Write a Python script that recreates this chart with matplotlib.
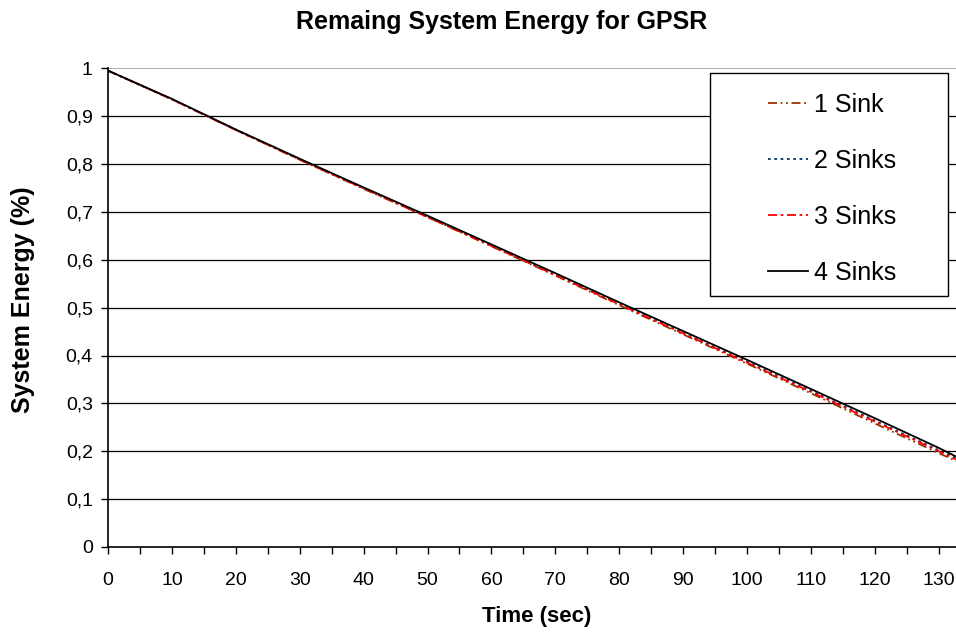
import numpy as np
import matplotlib
matplotlib.use('Agg')
import matplotlib.pyplot as plt
import matplotlib.patches as mpatches
from matplotlib.ticker import MultipleLocator, FuncFormatter

plt.rcParams['font.family'] = ['Liberation Sans', 'DejaVu Sans']

TITLE = 'Remaing System Energy for GPSR'

time = [0, 10, 20, 30, 40, 50, 60, 70, 80, 90, 100, 110, 120, 130, 133]
sink1 = [0.995, 0.935, 0.871, 0.809, 0.748, 0.689, 0.628, 0.567, 0.505, 0.444, 0.383, 0.321, 0.258, 0.196, 0.178]
sink2 = [0.995, 0.935, 0.872, 0.810, 0.750, 0.690, 0.630, 0.569, 0.508, 0.447, 0.387, 0.326, 0.264, 0.202, 0.184]
sink3 = [0.995, 0.935, 0.871, 0.809, 0.749, 0.689, 0.629, 0.568, 0.507, 0.446, 0.385, 0.324, 0.262, 0.200, 0.181]
sink4 = [0.995, 0.936, 0.872, 0.811, 0.751, 0.692, 0.632, 0.572, 0.511, 0.451, 0.391, 0.330, 0.269, 0.207, 0.187]

fig = plt.figure(figsize=(9.56, 6.32), dpi=100)
ax = fig.add_axes([0.113, 0.1345, 0.887, 0.7575])

ax.plot(time, sink1, color='#993300', lw=1.3, dashes=[5, 2, 1, 2, 1, 2], label='1 Sink')
ax.plot(time, sink2, color='#003366', lw=1.3, linestyle=(0, (1.5, 2)), label='2 Sinks')
ax.plot(time, sink3, color='#ff0000', lw=1.3, dashes=[5, 2, 1.5, 2], label='3 Sinks')
ax.plot(time, sink4, color='black', lw=1.3, label='4 Sinks')

ax.set_xlim(0, 132.7)
ax.set_ylim(0, 1)
ax.xaxis.set_major_locator(MultipleLocator(10))
ax.xaxis.set_minor_locator(MultipleLocator(5))
ax.yaxis.set_major_locator(MultipleLocator(0.1))
ax.yaxis.set_major_formatter(FuncFormatter(lambda v, p: ('%g' % round(v, 1)).replace('.', ',')))

for y in np.arange(0.1, 0.95, 0.1):
    ax.axhline(y, color='black', lw=0.9, zorder=0)
ax.axhline(1.0, color='#a0a0a0', lw=1.2, zorder=0)

for s in ['top', 'right']:
    ax.spines[s].set_visible(False)
ax.spines['left'].set_linewidth(1.2)
ax.spines['bottom'].set_linewidth(1.2)

ax.tick_params(axis='both', which='both', direction='out', length=5, width=1, labelsize=14)
ax.tick_params(axis='x', pad=13)
ax.tick_params(axis='y', pad=6)

fig.text(0.5246, 0.9644, TITLE, fontsize=18, fontweight='bold', ha='center', va='center')
ax.set_xlabel('Time (sec)', fontsize=16, fontweight='bold', va='center')
ax.xaxis.set_label_coords(0.505, -0.146)
ax.set_ylabel('System Energy (%)', fontsize=18, fontweight='bold', va='center')
ax.yaxis.set_label_coords(-0.100, 0.516)

# legend entries without frame, frame drawn as a separate box
leg = ax.legend(loc='upper left', bbox_to_anchor=(0.778, 0.949), fontsize=18, frameon=False,
                labelspacing=1.28, borderpad=0, handlelength=1.6, handletextpad=0.24,
                borderaxespad=0)
box = mpatches.Rectangle((0.710, 0.524), 0.2806, 0.4656, transform=ax.transAxes,
                         facecolor='white', edgecolor='black', lw=1.0, zorder=4)
ax.add_patch(box)
leg.set_zorder(5)

fig.savefig('out.png', dpi=100)
